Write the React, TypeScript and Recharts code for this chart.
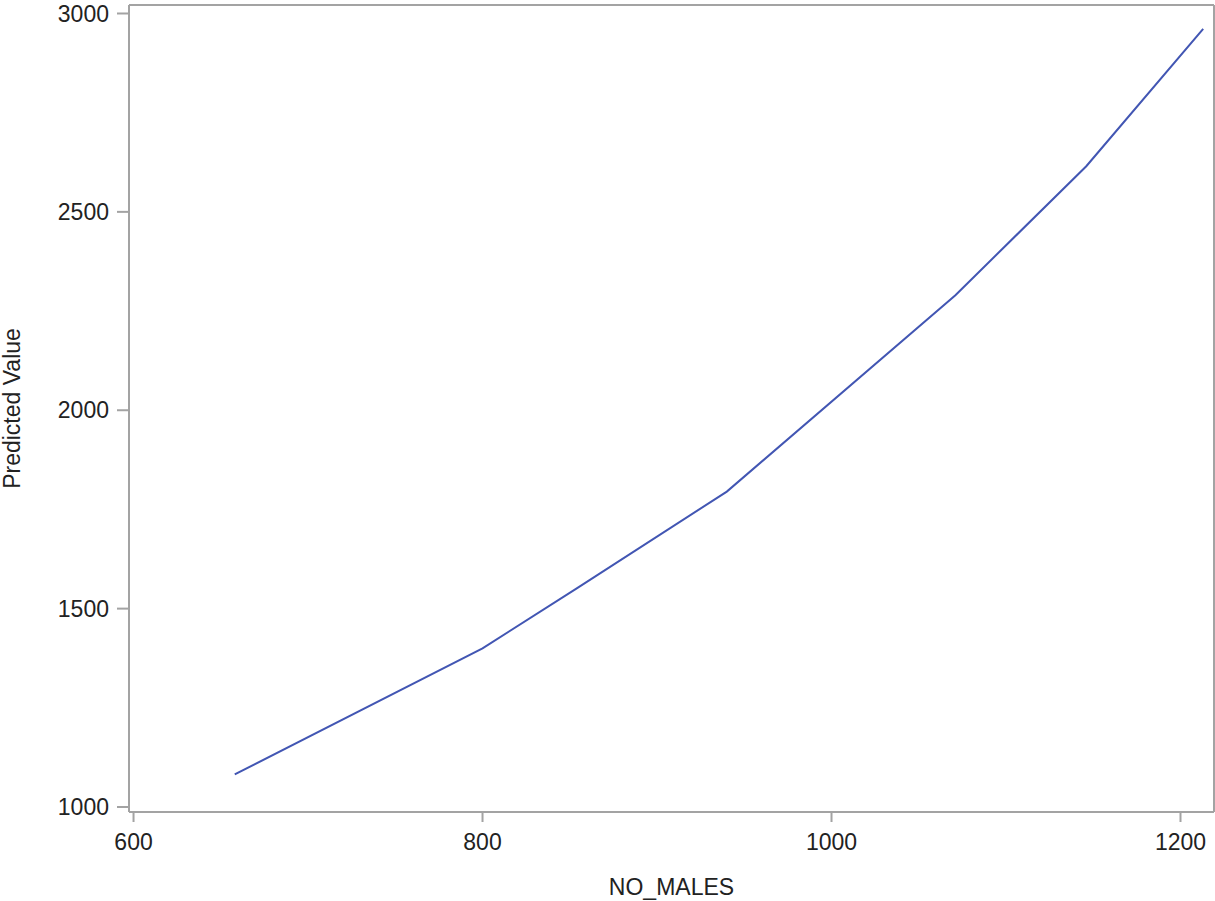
import React from "react";
import { LineChart, Line, XAxis, YAxis, Label } from "recharts";

const noMales = [658, 800, 854, 940, 1071, 1146, 1213];
const predicted = [1082, 1400, 1551, 1795, 2290, 2615, 2961];
const xTicks = [600, 800, 1000, 1200];
const yTicks = [1000, 1500, 2000, 2500, 3000];

const data = noMales.map((x, i) => ({ x, y: predicted[i] }));

const AXIS = "#a3a3a3";
const FONT = "'Liberation Sans', Arial, sans-serif";
const xDomain: [number, number] = [597.4, 1219.2];
const yDomain: [number, number] = [987.4, 3021.4];

const YTitle = (props: any) => {
  const vb = props.viewBox || { x: 0, y: 0, width: 0, height: 0 };
  const cx = vb.x + 20;
  const cy = vb.y + vb.height / 2;
  return (
    <text
      x={cx}
      y={cy}
      transform={`rotate(-90, ${cx}, ${cy})`}
      textAnchor="middle"
      fill="#222"
      fontSize={23}
      fontFamily={FONT}
    >
      Predicted Value
    </text>
  );
};

export default function App() {
  return (
    <div style={{ position: "absolute", left: 0, top: 0, background: "#fff" }}>
      <LineChart
        width={1215}
        height={901}
        data={data}
        margin={{ top: 4, right: 0, left: 0, bottom: 0 }}
        style={{ fontFamily: FONT }}
      >
        <XAxis
          dataKey="x"
          type="number"
          domain={xDomain}
          allowDataOverflow
          ticks={xTicks}
          height={89}
          stroke={AXIS}
          tickSize={10}
          tickMargin={12}
          tick={{ fill: "#222", fontSize: 23, fontFamily: FONT }}
          tickLine={{ stroke: AXIS, strokeWidth: 2 }}
          axisLine={{ stroke: AXIS, strokeWidth: 2 }}
        >
          <Label
            value="NO_MALES"
            position="insideBottom"
            offset={6}
            style={{ fill: "#222", fontSize: 23, fontFamily: FONT }}
          />
        </XAxis>
        <XAxis
          xAxisId="top"
          orientation="top"
          type="number"
          domain={xDomain}
          allowDataOverflow
          height={1}
          tick={false}
          tickLine={false}
          axisLine={{ stroke: AXIS, strokeWidth: 2 }}
        />
        <YAxis
          type="number"
          domain={yDomain}
          allowDataOverflow
          ticks={yTicks}
          width={129}
          stroke={AXIS}
          tickSize={12}
          tickMargin={8}
          tick={{ fill: "#222", fontSize: 23, fontFamily: FONT }}
          tickLine={{ stroke: AXIS, strokeWidth: 2 }}
          axisLine={{ stroke: AXIS, strokeWidth: 2 }}
        >
          <Label content={YTitle} />
        </YAxis>
        <YAxis
          yAxisId="right"
          orientation="right"
          type="number"
          domain={yDomain}
          allowDataOverflow
          width={1}
          tick={false}
          tickLine={false}
          axisLine={{ stroke: AXIS, strokeWidth: 2 }}
        />
        <Line
          dataKey="y"
          type="linear"
          stroke="#4256b3"
          strokeWidth={2}
          dot={false}
          isAnimationActive={false}
        />
      </LineChart>
    </div>
  );
}
